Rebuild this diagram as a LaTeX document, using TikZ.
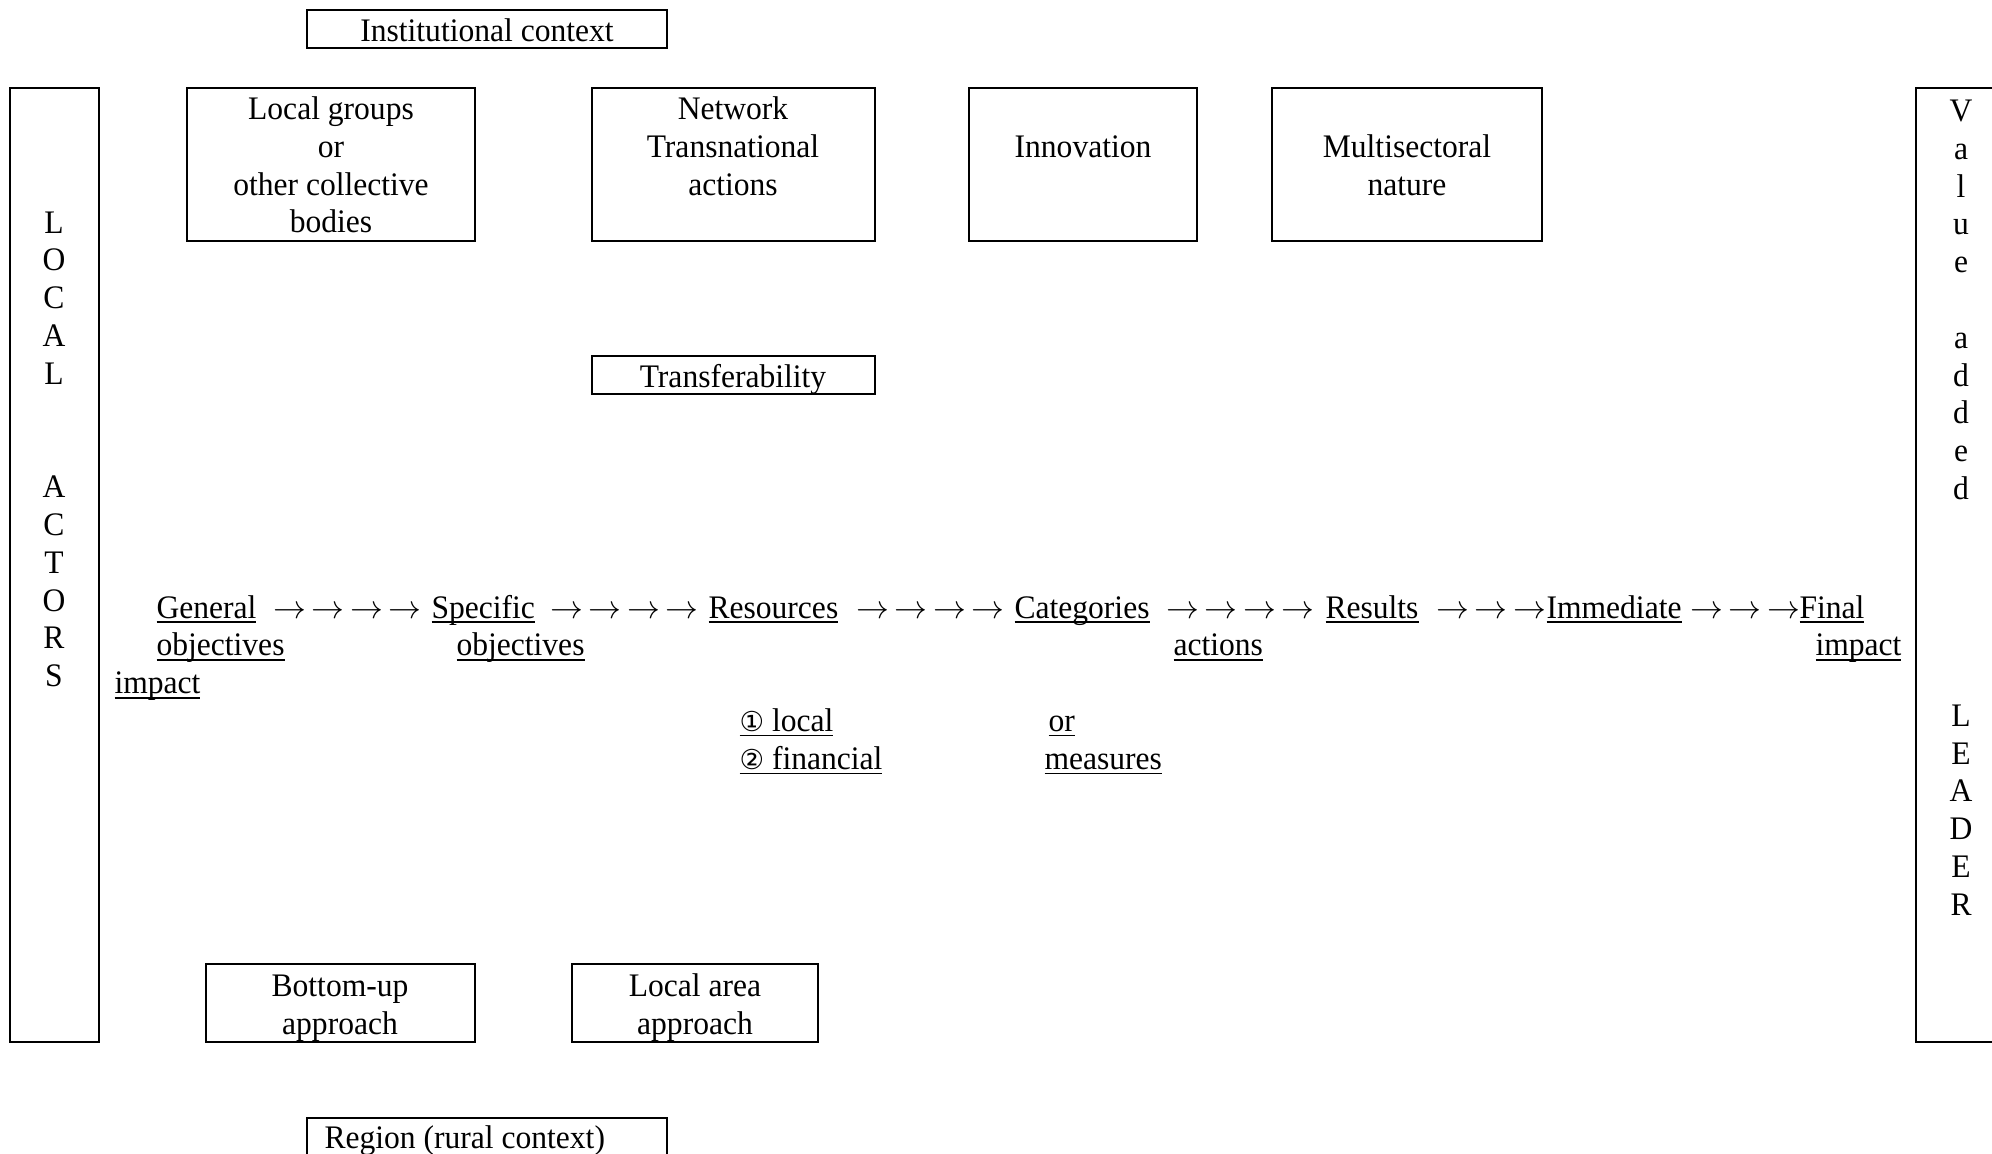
\documentclass[tikz,border=0pt]{standalone}
\usepackage{fontspec}
\setmainfont{Liberation Serif}[FakeStretch=0.96]
\newfontfamily\circfont{DejaVu Sans}
\newsavebox{\ulbox}
\newcommand{\ul}[1]{\sbox{\ulbox}{#1}\rlap{\rule[-1.8pt]{\wd\ulbox}{0.55pt}}\usebox{\ulbox}}
\newcommand{\arrs}{$\rightarrow\,\rightarrow\,\rightarrow\,\rightarrow$}
\newcommand{\arrsshort}{$\rightarrow\,\rightarrow\,\rightarrow$}
\tikzset{
  lbl/.style={font=\fontsize{12}{13.8}\selectfont, inner sep=0pt, anchor=base},
  wrd/.style={lbl, anchor=base west},
  frame/.style={draw=black, line width=0.8pt}
}
\begin{document}
\begin{tikzpicture}[x=0.365pt, y=-0.365pt]
\clip (0,0) rectangle (1992,1153);
\fill[white] (0,0) rectangle (1992,1153);
% Frames of the text boxes
\begin{scope}[frame]
  \draw (307,10) rectangle (667,48);
  \draw (10,88) rectangle (99,1042);
  \draw (187,88) rectangle (475,241);
  \draw (592,88) rectangle (875,241);
  \draw (969,88) rectangle (1197,241);
  \draw (1272,88) rectangle (1542,241);
  \draw (592,356) rectangle (875,394);
  \draw (1916,88) rectangle (2010,1042);
  \draw (206,964) rectangle (475,1042);
  \draw (572,964) rectangle (818,1042);
  \draw (307,1118) rectangle (667,1180);
\end{scope}
% Box texts
\node[lbl] (instctx) at (487,41.5) {Institutional context};
\node[lbl] (lgroups1) at (331,119.5) {Local groups};
\node[lbl] (lgroups2) at (331,157.3) {or};
\node[lbl] (lgroups3) at (331,195.1) {other collective};
\node[lbl] (lgroups4) at (331,232.9) {bodies};
\node[lbl] (network1) at (733,119.5) {Network};
\node[lbl] (network2) at (733,157.3) {Transnational};
\node[lbl] (network3) at (733,195.1) {actions};
\node[lbl] (innov) at (1083,157.3) {Innovation};
\node[lbl] (multi1) at (1407,157.3) {Multisectoral};
\node[lbl] (multi2) at (1407,195.1) {nature};
\node[lbl] (transf) at (733,387) {Transferability};
\node[lbl] (bottomup1) at (340,996.8) {Bottom-up};
\node[lbl] (bottomup2) at (340,1034.6) {approach};
\node[lbl] (localarea1) at (695,996.8) {Local area};
\node[lbl] (localarea2) at (695,1034.6) {approach};
\node[wrd] (region) at (324,1148) {Region (rural context)};
% Local actors, one letter a line
\node[lbl] (la1) at (54,233) {L};
\node[lbl] (la2) at (54,270.8) {O};
\node[lbl] (la3) at (54,308.6) {C};
\node[lbl] (la4) at (54,346.4) {A};
\node[lbl] (la5) at (54,384.2) {L};
\node[lbl] (la6) at (54,497.6) {A};
\node[lbl] (la7) at (54,535.4) {C};
\node[lbl] (la8) at (54,573.2) {T};
\node[lbl] (la9) at (54,611) {O};
\node[lbl] (la10) at (54,648.8) {R};
\node[lbl] (la11) at (54,686.6) {S};
% Value added LEADER, one letter a line
\node[lbl] (va1) at (1961,121.4) {V};
\node[lbl] (va2) at (1961,159.2) {a};
\node[lbl] (va3) at (1961,197) {l};
\node[lbl] (va4) at (1961,234.8) {u};
\node[lbl] (va5) at (1961,272.6) {e};
\node[lbl] (va6) at (1961,348.2) {a};
\node[lbl] (va7) at (1961,386) {d};
\node[lbl] (va8) at (1961,423.8) {d};
\node[lbl] (va9) at (1961,461.6) {e};
\node[lbl] (va10) at (1961,499.4) {d};
\node[lbl] (ld1) at (1961,726.2) {L};
\node[lbl] (ld2) at (1961,764) {E};
\node[lbl] (ld3) at (1961,801.8) {A};
\node[lbl] (ld4) at (1961,839.6) {D};
\node[lbl] (ld5) at (1961,877.4) {E};
\node[lbl] (ld6) at (1961,915.2) {R};
% Chain of the programme, first line
\node[wrd] (general) at (156,618) {\ul{General}};
\node[wrd] (arr1) at (273,618) {\arrs};
\node[wrd] (specific) at (431,618) {\ul{Specific}};
\node[wrd] (arr2) at (550,618) {\arrs};
\node[wrd] (resources) at (708,618) {\ul{Resources}};
\node[wrd] (arr3) at (856,618) {\arrs};
\node[wrd] (categories) at (1014,618) {\ul{Categories}};
\node[wrd] (arr4) at (1166,618) {\arrs};
\node[wrd] (results) at (1325,618) {\ul{Results}};
\node[wrd] (arr5) at (1436,618) {\arrsshort};
\node[wrd] (immediate) at (1546,618) {\ul{Immediate}};
\node[wrd] (arr6) at (1690,618) {\arrsshort};
\node[wrd] (final) at (1799,618) {\ul{Final}};
% Following lines
\node[wrd] (genobj) at (156,655.8) {\ul{objectives}};
\node[wrd] (specobj) at (456,655.8) {\ul{objectives}};
\node[wrd] (catact) at (1173,655.8) {\ul{actions}};
\node[wrd] (finimp) at (1815,655.8) {\ul{impact}};
\node[wrd] (immimp) at (114,693.6) {\ul{impact}};
\node[wrd] (reslocal) at (739,731.4) {\ul{{\circfont\fontsize{10}{12}\selectfont ①} local}};
\node[wrd] (resfin) at (739,769.2) {\ul{{\circfont\fontsize{10}{12}\selectfont ②} financial}};
\node[wrd] (cator) at (1048,731.4) {\ul{or}};
\node[wrd] (catmeas) at (1044,769.2) {\ul{measures}};
\end{tikzpicture}
\end{document}
